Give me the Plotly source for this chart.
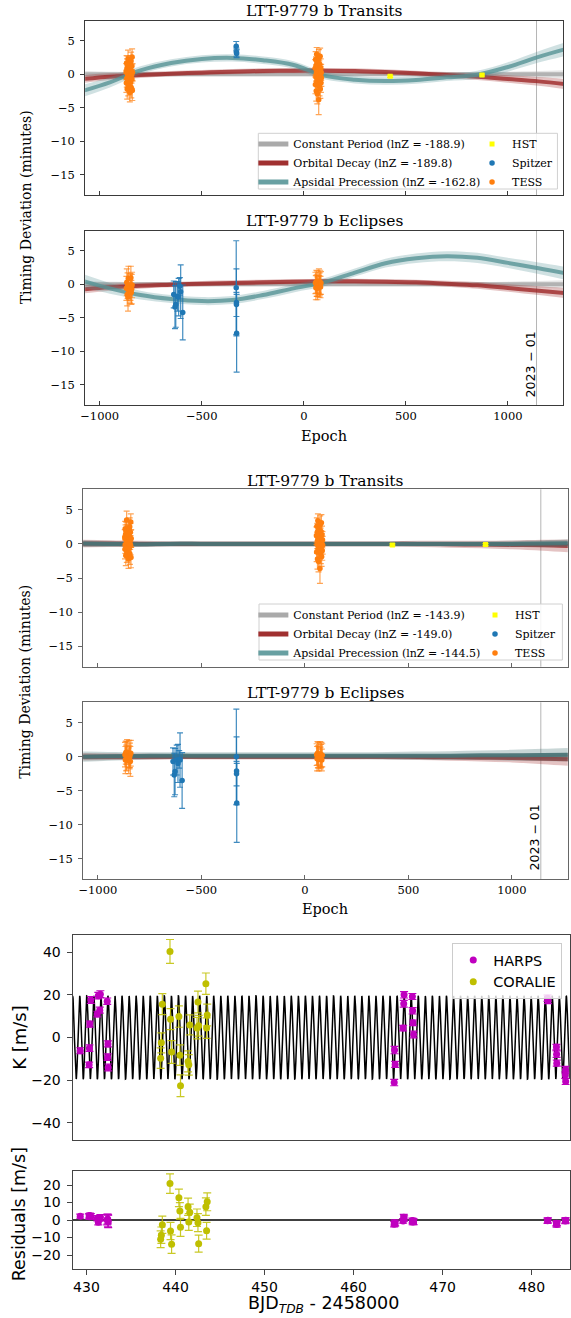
import numpy as np
import plotly.graph_objects as go

W, H = 571, 1318


def px(x):
    return x / W


def py(y):
    return 1 - y / H


SERIF = "DejaVu Serif"
SANS = "DejaVu Sans"

# ---------------- TTV data (timing deviations in minutes) ----------------
tess_tr_epoch = [-870, -869, -868, -867, -866, -865, -864, -863, -862, -861, -860, -859, -858, -857,
                 -852, -851, -850, -849, -848, -847, -846, -845, -844, -843, -842, -841, -840, -839,
                 56, 57, 58, 59, 60, 61, 62, 63, 64, 65, 66, 67, 68, 69,
                 73, 74, 75, 76, 77, 78, 79, 80, 81, 82, 83, 84, 85, 86]
tess_tr_err = [1.2, 1.4, 1.1, 1.3, 1.4, 1.5, 1.2, 1.3, 1.4, 1.3, 1.5, 1.1, 1.2, 1.3,
               1.4, 1.2, 1.3, 1.2, 1.3, 1.1, 1.3, 1.5, 1.2, 1.3, 1.4, 1.2, 1.5, 1.3,
               1.3, 1.4, 1.2, 1.3, 1.3, 1.5, 1.2, 1.0, 1.4, 1.3, 1.5, 1.2, 1.3, 1.2,
               2.2, 1.3, 1.2, 1.3, 1.4, 1.2, 1.3, 1.2, 1.4, 1.2, 1.3, 1.4, 1.2, 1.3]
tess_tr_dev_fit1 = [0.4, -1.3, 1.7, -0.6, 0.9, -2.2, 0.1, 1.4, -0.9, 2.3, -1.7, 0.6, -0.3, 1.0,
                    -2.7, 0.8, -0.4, 1.6, -1.1, 0.2, 2.0, -2.0, -0.1, 1.2, -0.7, 2.6, -2.4, 0.3,
                    0.9, -1.5, 2.2, -0.4, 1.3, -2.5, 0.2, 3.0, -1.0, 1.8, -2.9, 0.5, -0.6, 1.1,
                    -3.8, 2.4, -0.2, 0.7, -1.8, 1.5, -0.9, 2.7, -2.2, 0.0, 1.0, -1.3, 0.3, -0.5]
tess_tr_dev_fit2 = [0.9, -0.8, 2.2, -0.1, 1.4, -1.7, 0.6, 1.9, -0.4, 3.5, -1.2, 1.1, 0.2, 1.5,
                    -2.2, 1.3, 0.1, 2.1, -0.6, 0.7, 2.5, -1.5, 0.4, 1.7, -0.2, 3.2, -2.0, 0.8,
                    1.2, -1.2, 2.6, -0.1, 1.7, -2.2, 0.5, 3.4, -0.7, 2.1, -2.6, 0.8, -0.3, 1.4,
                    -3.6, 2.8, 0.1, 1.0, -1.5, 1.8, -0.6, 3.1, -1.9, 0.3, 1.3, -1.0, 0.6, -0.2]

tess_ec_epoch = [-869, -867, -865, -863, -861, -859, -851, -849, -847, -845, -843, -841,
                 57, 59, 61, 63, 65, 67, 74, 76, 78, 80, 82, 84]
tess_ec_err = [1.8, 2.0, 1.7, 1.9, 2.1, 1.8, 1.9, 2.0, 1.7, 1.8, 2.2, 1.9,
               1.6, 1.8, 1.7, 1.6, 1.9, 1.7, 1.8, 1.6, 1.7, 1.8, 1.6, 1.7]
tess_ec_dev_fit1 = [-0.6, 0.3, -1.5, -0.2, -1.9, 0.9, -0.9, -0.4, 1.0, -1.2, -0.7, -0.1,
                    0.2, -0.5, 0.4, -0.2, 0.1, -0.6, 0.5, -0.3, 0.0, 0.3, -0.4, 0.2]
tess_ec_dev_fit2 = [0.3, -0.5, 0.6, -0.2, 0.1, 0.7, -0.6, 0.4, -0.1, 0.2, -0.7, 0.5,
                    0.3, -0.3, 0.5, 0.0, 0.2, -0.4, 0.4, -0.2, 0.1, 0.3, -0.5, 0.2]

spitzer_tr_epoch = [-331, -330, -329]
spitzer_tr_err = [0.7, 0.6, 0.6]
spitzer_tr_dev_fit1 = [4.2, 3.3, 3.1]

spitzer_ec_epoch = [-637, -631, -627, -619, -613, -607, -603, -593, -331, -330, -330, -329]
spitzer_ec_err = [2.0, 3.2, 3.4, 2.2, 2.8, 1.3, 4.0, 4.1, 7.0, 5.0, 1.8, 5.8]
spitzer_ec_dev_fit1 = [-1.5, -3.4, -3.0, -1.8, -1.9, -0.3, -1.1, -4.2, -0.5, -2.7, -3.0, -7.3]
spitzer_ec_dev_fit2 = [-0.7, -2.7, -2.2, -0.5, -1.0, -0.4, -0.5, -3.5, 0.0, -2.1, -2.5, -6.8]

hst_tr_epoch = [423, 873]
hst_tr_err = [0.15, 0.15]
hst_tr_dev_fit1 = [-0.3, -0.1]
hst_tr_dev_fit2 = [-0.15, -0.1]

# ---------------- model posterior bands (read at sample epochs) ----------------
model_epoch = [-1080, -950, -800, -650, -500, -350, -200, -50, 100, 250, 400, 550, 700, 850, 1000, 1150, 1280]

const_center = [0.0, 0.0, 0.0, 0.0, 0.0, 0.0, 0.0, 0.0, 0.0, 0.0, 0.0, 0.0, 0.0, 0.0, 0.0, 0.0, 0.0]
const_spread = [0.5, 0.4, 0.35, 0.3, 0.3, 0.3, 0.3, 0.3, 0.3, 0.3, 0.3, 0.3, 0.3, 0.35, 0.4, 0.5, 0.6]

decay_tr_fit1 = [-0.7, -0.35, -0.1, 0.1, 0.25, 0.4, 0.5, 0.55, 0.55, 0.5, 0.35, 0.15, -0.1, -0.35, -0.7, -1.05, -1.45]
decay_ec_fit1 = [-0.75, -0.45, -0.2, -0.05, 0.1, 0.2, 0.3, 0.4, 0.45, 0.45, 0.4, 0.3, 0.1, -0.15, -0.55, -0.95, -1.3]
decay_spread_fit1 = [0.6, 0.5, 0.45, 0.4, 0.4, 0.4, 0.4, 0.4, 0.4, 0.4, 0.4, 0.4, 0.45, 0.5, 0.55, 0.65, 0.75]

aps_tr_fit1 = [-2.45, -1.2, 0.6, 1.7, 2.3, 2.45, 2.1, 1.4, -0.2, -0.8, -1.0, -0.85, -0.45, -0.05, 1.1, 2.6, 3.75]
aps_tr_spread_fit1 = [0.9, 0.75, 0.6, 0.55, 0.55, 0.55, 0.55, 0.55, 0.55, 0.55, 0.55, 0.55, 0.55, 0.6, 0.7, 0.85, 1.0]
aps_ec_fit1 = [0.5, -0.6, -1.6, -2.2, -2.5, -2.35, -1.6, -0.6, 0.3, 1.75, 3.15, 3.9, 4.2, 3.95, 3.2, 2.4, 1.65]
aps_ec_spread_fit1 = [1.0, 0.8, 0.65, 0.6, 0.6, 0.6, 0.6, 0.6, 0.6, 0.6, 0.65, 0.7, 0.75, 0.75, 0.75, 0.85, 0.95]

decay_tr_fit2 = [0.05, 0.05, 0.0, 0.0, 0.0, 0.0, 0.0, 0.0, 0.0, 0.0, 0.0, 0.0, -0.05, -0.1, -0.15, -0.2, -0.3]
decay_ec_fit2 = [0.0, 0.0, 0.0, 0.0, 0.0, 0.0, 0.0, 0.0, 0.0, 0.0, 0.0, -0.05, -0.1, -0.15, -0.2, -0.3, -0.4]
decay_spread_fit2 = [0.55, 0.5, 0.45, 0.4, 0.4, 0.4, 0.4, 0.4, 0.4, 0.4, 0.4, 0.45, 0.5, 0.55, 0.65, 0.8, 0.95]
aps_tr_fit2 = [0.05, 0.0, -0.05, 0.0, 0.0, 0.0, 0.0, 0.0, 0.0, 0.0, 0.0, 0.0, 0.0, 0.0, 0.0, 0.05, 0.1]
aps_tr_spread_fit2 = [0.5, 0.45, 0.4, 0.4, 0.4, 0.4, 0.4, 0.4, 0.4, 0.4, 0.4, 0.4, 0.4, 0.4, 0.45, 0.5, 0.55]
aps_ec_fit2 = [0.0, 0.05, 0.1, 0.15, 0.15, 0.15, 0.15, 0.15, 0.15, 0.15, 0.15, 0.15, 0.15, 0.2, 0.2, 0.25, 0.3]
aps_ec_spread_fit2 = [0.75, 0.65, 0.55, 0.5, 0.5, 0.5, 0.5, 0.5, 0.5, 0.5, 0.55, 0.6, 0.65, 0.7, 0.8, 0.9, 1.0]

model_names = ["Constant Period", "Orbital Decay", "Apsidal Precession"]
lnz_fit1 = [-188.9, -189.8, -162.8]
lnz_fit2 = [-143.9, -149.0, -144.5]
epoch_2023_01 = 1140

# ---------------- RV data ----------------
harps_t = [429.30, 430.30, 430.33, 430.38, 430.49, 431.22, 431.33, 431.49, 431.56, 432.33, 432.41,
           432.38, 432.44, 464.56, 464.60, 464.67, 465.56, 465.63, 465.67, 466.60, 466.63, 466.67,
           466.74, 481.78, 481.82, 482.78, 482.80, 482.82, 483.80, 483.78, 483.82]
harps_rv = [-6.2, -12.8, -5.0, 6.3, 17.6, 11.0, 19.6, 12.8, 20.3, 17.0, -3.0,
            -9.2, -14.0, -21.1, -5.9, -12.6, 4.4, 15.8, 20.0, 19.2, 12.5, 6.9,
            1.4, 18.4, 17.3, -4.5, -7.8, -12.0, -15.1, -17.6, -20.6]
harps_err = [1.4, 1.3, 1.5, 1.4, 1.6, 1.3, 1.5, 1.4, 1.6, 1.5, 1.4,
             1.5, 1.6, 1.5, 1.7, 1.4, 1.3, 1.6, 1.5, 1.4, 1.5, 1.3,
             1.6, 1.5, 1.4, 1.3, 1.5, 1.4, 1.6, 1.5, 1.4]
harps_res = [2.2, 2.4, 1.8, 2.6, 2.0, 1.0, -1.3, 0.8, 1.5, 0.2, -0.5,
             0.6, -0.8, -2.4, -1.6, -2.0, -0.5, 1.6, 0.9, -0.3, -1.2, -0.6,
             -1.0, -0.4, -0.2, -2.0, -2.6, -1.8, -0.3, -0.6, -0.1]
harps_res_err = [1.2, 1.3, 1.5, 1.4, 1.6, 1.5, 1.5, 1.4, 1.6, 3.0, 3.4,
                 2.8, 3.6, 1.5, 1.7, 1.4, 1.3, 1.6, 1.5, 1.4, 1.5, 1.3,
                 1.6, 1.5, 1.4, 1.3, 1.5, 1.4, 1.6, 1.5, 1.4]

coralie_t = [439.38, 438.52, 438.41, 438.33, 439.44, 439.56, 440.38, 440.49, 440.56,
             441.60, 441.41, 441.49, 442.41, 442.52, 442.60, 443.41, 443.56, 443.49]
coralie_rv = [40.3, 15.6, -2.5, -9.7, 8.6, -6.8, 9.8, -8.3, -22.6,
              5.9, -11.2, -12.8, 4.4, 16.6, 5.5, 25.2, 10.5, 4.4]
coralie_err = [5.6, 4.9, 4.7, 4.8, 4.9, 5.3, 5.0, 4.8, 5.1,
               4.7, 4.9, 4.8, 5.0, 5.1, 4.9, 5.0, 5.1, 4.8]
coralie_res = [20.8, -2.7, -8.7, -11.0, -6.3, -13.8, 12.7, 5.1, -4.2,
               4.4, 7.6, -1.1, 1.3, -1.5, -13.5, 7.6, 10.4, -6.1]

# Keplerian (circular) model parameters
rv_K = 19.5      # m/s
rv_P = 0.792     # days
rv_T0 = 465.67   # time of maximum

rv_xrange = [428.44, 484.27]
rv_xticks = [430, 440, 450, 460, 470, 480]

# ---------------- figure ----------------
fig = go.Figure()

RGB = {"const": "165,165,165", "decay": "158,40,40", "aps": "86,148,150", "aps2": "72,118,120"}
LEG_COL = {"const": "rgb(170,170,170)", "decay": "rgb(160,48,48)", "aps": "rgb(104,160,162)"}
C_TESS = "#ff7f0e"
C_SPITZER = "#1f77b4"
C_HST = "#ffff00"


def add_band(xa, ya, center, spread, key, fill_a=0.28, core_a=0.8, core_w=4):
    rgb = RGB[key]
    upper = [c + s for c, s in zip(center, spread)]
    lower = [c - s for c, s in zip(center, spread)]
    common = dict(x=model_epoch, xaxis=xa, yaxis=ya, mode="lines", hoverinfo="skip", showlegend=False)
    fig.add_trace(go.Scatter(y=upper, line=dict(width=0, shape="spline", color=f"rgba({rgb},0)"), **common))
    fig.add_trace(go.Scatter(y=lower, fill="tonexty", fillcolor=f"rgba({rgb},{fill_a})",
                             line=dict(width=0, shape="spline", color=f"rgba({rgb},0)"), **common))
    fig.add_trace(go.Scatter(y=center, line=dict(width=core_w, shape="spline", color=f"rgba({rgb},{core_a})"), **common))


def add_points(xa, ya, ep, dev, err, color, err_color, name, legend=None, rank=1000,
               symbol="circle", size=5.5, cap=3):
    fig.add_trace(go.Scatter(
        x=ep, y=dev, xaxis=xa, yaxis=ya, mode="markers", name=name,
        showlegend=legend is not None, legend=legend if legend else "legend", legendrank=rank,
        marker=dict(color=color, size=size, symbol=symbol, line=dict(width=0)),
        error_y=dict(type="data", array=err, visible=True, color=err_color, thickness=1.2, width=cap),
        hoverinfo="x+y"))


def add_model_legend(xa, ya, legend, lnz):
    for i, key in enumerate(["const", "decay", "aps"]):
        fig.add_trace(go.Scatter(
            x=[None], y=[None], xaxis=xa, yaxis=ya, mode="lines",
            name=f"{model_names[i]} (lnZ = {lnz[i]})", legend=legend, legendrank=i + 1,
            line=dict(color=LEG_COL[key], width=5), showlegend=True))


TESS_ERR = "rgba(255,127,14,0.7)"
SPZ_ERR = "rgba(31,119,180,0.85)"

# Panel 1: fig1 transits
add_band("x", "y", const_center, const_spread, "const")
add_band("x", "y", decay_tr_fit1, decay_spread_fit1, "decay")
add_band("x", "y", aps_tr_fit1, aps_tr_spread_fit1, "aps")
add_model_legend("x", "y", "legend", lnz_fit1)
add_points("x", "y", tess_tr_epoch, tess_tr_dev_fit1, tess_tr_err, C_TESS, TESS_ERR, "TESS", "legend2", 3)
add_points("x", "y", spitzer_tr_epoch, spitzer_tr_dev_fit1, spitzer_tr_err, C_SPITZER, SPZ_ERR, "Spitzer", "legend2", 2)
add_points("x", "y", hst_tr_epoch, hst_tr_dev_fit1, hst_tr_err, C_HST, C_HST, "HST", "legend2", 1, symbol="square", size=5)

# Panel 2: fig1 eclipses
add_band("x2", "y2", const_center, const_spread, "const")
add_band("x2", "y2", decay_ec_fit1, decay_spread_fit1, "decay")
add_band("x2", "y2", aps_ec_fit1, aps_ec_spread_fit1, "aps")
add_points("x2", "y2", tess_ec_epoch, tess_ec_dev_fit1, tess_ec_err, C_TESS, TESS_ERR, "TESS")
add_points("x2", "y2", spitzer_ec_epoch, spitzer_ec_dev_fit1, spitzer_ec_err, C_SPITZER, SPZ_ERR, "Spitzer")

# Panel 3: fig2 transits
add_band("x3", "y3", const_center, const_spread, "const")
add_band("x3", "y3", decay_tr_fit2, decay_spread_fit2, "decay")
add_band("x3", "y3", aps_tr_fit2, aps_tr_spread_fit2, "aps2", fill_a=0.3, core_a=0.9)
add_model_legend("x3", "y3", "legend3", lnz_fit2)
add_points("x3", "y3", tess_tr_epoch, tess_tr_dev_fit2, tess_tr_err, C_TESS, TESS_ERR, "TESS", "legend4", 3)
fig.add_trace(go.Scatter(x=[None], y=[None], xaxis="x3", yaxis="y3", mode="markers", name="Spitzer",
                         legend="legend4", legendrank=2, marker=dict(color=C_SPITZER, size=5.5)))
add_points("x3", "y3", hst_tr_epoch, hst_tr_dev_fit2, hst_tr_err, C_HST, C_HST, "HST", "legend4", 1, symbol="square", size=5)

# Panel 4: fig2 eclipses
add_band("x4", "y4", const_center, const_spread, "const")
add_band("x4", "y4", decay_ec_fit2, decay_spread_fit2, "decay")
add_band("x4", "y4", aps_ec_fit2, aps_ec_spread_fit2, "aps2", fill_a=0.3, core_a=0.9)
add_points("x4", "y4", tess_ec_epoch, tess_ec_dev_fit2, tess_ec_err, C_TESS, TESS_ERR, "TESS")
add_points("x4", "y4", spitzer_ec_epoch, spitzer_ec_dev_fit2, spitzer_ec_err, C_SPITZER, SPZ_ERR, "Spitzer")

# Panel 5: RV with Keplerian model
t_model = np.linspace(rv_xrange[0], rv_xrange[1], 3000)
v_model = rv_K * np.cos(2 * np.pi * (t_model - rv_T0) / rv_P)
fig.add_trace(go.Scatter(x=t_model, y=v_model, xaxis="x5", yaxis="y5", mode="lines",
                         line=dict(color="black", width=1.5), showlegend=False, hoverinfo="skip"))
C_HARPS = "#bf00bf"
C_CORALIE = "#bfbf00"
add_points("x5", "y5", harps_t, harps_rv, harps_err, C_HARPS, C_HARPS, "HARPS", "legend5", 1, size=7, cap=4)
add_points("x5", "y5", coralie_t, coralie_rv, coralie_err, C_CORALIE, "rgba(191,191,0,0.85)", "CORALIE", "legend5", 2, size=7, cap=4)

# Panel 6: residuals
add_points("x6", "y6", harps_t, harps_res, harps_res_err, C_HARPS, C_HARPS, "HARPS", size=7, cap=4)
add_points("x6", "y6", coralie_t, coralie_res, coralie_err, C_CORALIE, "rgba(191,191,0,0.85)", "CORALIE", size=7, cap=4)

# ---------------- axes ----------------
ttv_xdom1 = [px(81), px(564)]
ttv_xdom2 = [px(79), px(568.7)]
rv_xdom = [px(68.3), px(570.7)]

F1_LINE = "#3a3a3a"
F2_LINE = "#666666"
RV_LINE = "#444444"


def ttv_xaxis(domain, anchor, labels, lc):
    return dict(domain=domain, anchor=anchor, range=[-1071, 1270],
                tickvals=[-1000, -500, 0, 500, 1000], exponentformat="none",
                ticks="inside", ticklen=4, tickwidth=1, tickcolor=lc,
                showticklabels=labels, showline=True, mirror=True, linecolor=lc, linewidth=1,
                showgrid=False, zeroline=False, tickfont=dict(family=SERIF, size=11.5, color="black"))


def ttv_yaxis(top, bottom, anchor, lc):
    return dict(domain=[py(bottom), py(top)], anchor=anchor, range=[-18, 8],
                tickvals=[-15, -10, -5, 0, 5], ticks="outside", ticklen=4, tickwidth=1, tickcolor=lc,
                showline=True, mirror=True, linecolor=lc, linewidth=1, showgrid=False, zeroline=False,
                ticklabelstandoff=3, tickfont=dict(family=SERIF, size=11.5, color="black"))


layout = dict(
    width=W, height=H, margin=dict(l=0, r=0, t=0, b=0),
    paper_bgcolor="white", plot_bgcolor="white",
    font=dict(family=SERIF, color="black"),
    xaxis=ttv_xaxis(ttv_xdom1, "y", False, F1_LINE),
    yaxis=ttv_yaxis(20.7, 195, "x", F1_LINE),
    xaxis2=ttv_xaxis(ttv_xdom1, "y2", True, F1_LINE),
    yaxis2=ttv_yaxis(230.7, 405, "x2", F1_LINE),
    xaxis3=ttv_xaxis(ttv_xdom2, "y3", False, F2_LINE),
    yaxis3=ttv_yaxis(489.3, 666.7, "x3", F2_LINE),
    xaxis4=ttv_xaxis(ttv_xdom2, "y4", True, F2_LINE),
    yaxis4=ttv_yaxis(702.3, 879, "x4", F2_LINE),
    xaxis5=dict(domain=rv_xdom, anchor="y5", range=rv_xrange, showticklabels=False, ticks="",
                showline=True, mirror=True, linecolor=RV_LINE, linewidth=1, showgrid=False, zeroline=False),
    yaxis5=dict(domain=[py(1140), py(935)], anchor="x5", range=[-48, 48], tickvals=[-40, -20, 0, 20, 40],
                ticks="outside", ticklen=5, tickcolor=RV_LINE, showline=True, mirror=True, linecolor=RV_LINE,
                linewidth=1, showgrid=False, zeroline=False, ticklabelstandoff=3,
                tickfont=dict(family=SANS, size=14, color="black")),
    xaxis6=dict(domain=rv_xdom, anchor="y6", range=rv_xrange, tickvals=rv_xticks, ticks="outside",
                ticklen=5, tickcolor=RV_LINE, showline=True, mirror=True, linecolor=RV_LINE, linewidth=1,
                showgrid=False, zeroline=False, tickfont=dict(family=SANS, size=14, color="black")),
    yaxis6=dict(domain=[py(1269), py(1171)], anchor="x6", range=[-28, 28], tickvals=[-20, -10, 0, 10, 20],
                ticks="outside", ticklen=5, tickcolor=RV_LINE, showline=True, mirror=True, linecolor=RV_LINE,
                linewidth=1, showgrid=False, zeroline=False, ticklabelstandoff=3,
                tickfont=dict(family=SANS, size=14, color="black")),
)

leg_common = dict(xanchor="left", yanchor="top", bgcolor="rgba(0,0,0,0)", borderwidth=0,
                  font=dict(family=SERIF, size=11, color="black"), itemwidth=30, tracegroupgap=0,
                  traceorder="normal")
layout["legend"] = dict(x=px(251), y=py(129.5), **leg_common)
layout["legend2"] = dict(x=px(472), y=py(129.5), **leg_common)
layout["legend3"] = dict(x=px(251), y=py(600.5), **leg_common)
layout["legend4"] = dict(x=px(475), y=py(600.5), **leg_common)
layout["legend5"] = dict(x=px(452), y=py(943), xanchor="left", yanchor="top",
                         bgcolor="rgba(255,255,255,0.8)", bordercolor="#cccccc", borderwidth=1,
                         font=dict(family=SANS, size=14.5, color="black"), itemwidth=30,
                         traceorder="normal")

shapes = []
for xa, ya in [("x", "y"), ("x2", "y2"), ("x3", "y3"), ("x4", "y4")]:
    shapes.append(dict(type="line", xref=xa, x0=epoch_2023_01, x1=epoch_2023_01,
                       yref=f"{ya} domain", y0=0, y1=1, line=dict(color="#b5b5b5", width=1), layer="below"))
shapes.append(dict(type="line", xref="x6 domain", x0=0, x1=1, yref="y6", y0=0, y1=0,
                   line=dict(color="black", width=1.5), layer="below"))
for (x0, x1, y0, y1) in [(256, 558.3, 133.3, 189), (256.7, 563.3, 604, 660)]:
    shapes.append(dict(type="rect", xref="paper", yref="paper", x0=px(x0), x1=px(x1), y0=py(y1), y1=py(y0),
                       fillcolor="rgba(255,255,255,0.85)", line=dict(color="#d0d0d0", width=1), layer="above"))
layout["shapes"] = shapes


def ann(text, x, y, size, family=SERIF, angle=0, yanchor="middle"):
    return dict(text=text, x=px(x), y=py(y), xref="paper", yref="paper", xanchor="center", yanchor=yanchor,
                showarrow=False, textangle=angle, font=dict(family=family, size=size, color="black"))


annotations = [
    ann("LTT-9779 b Transits", 322.5, 11, 15.5),
    ann("LTT-9779 b Eclipses", 322.5, 221.5, 15.5),
    ann("LTT-9779 b Transits", 323.8, 481, 15.5),
    ann("LTT-9779 b Eclipses", 323.8, 693, 15.5),
    ann("Timing Deviation (minutes)", 21.5, 207, 14, angle=-90),
    ann("Timing Deviation (minutes)", 20, 682, 14, angle=-90),
    ann("Epoch", 322.7, 436, 14.5),
    ann("Epoch", 323.8, 909, 14.5),
    ann("2023 − 01", 531, 364, 12.5, family=SANS, angle=-90),
    ann("2023 − 01", 535, 837, 12.5, family=SANS, angle=-90),
    ann("K [m/s]", 14.5, 1037.5, 18, family=SANS, angle=-90),
    ann("Residuals [m/s]", 14.5, 1214, 17.5, family=SANS, angle=-90),
    ann("BJD<sub><i>TDB</i></sub> - 2458000", 321.5, 1317.5, 17.5, family=SANS, yanchor="bottom"),
]
layout["annotations"] = annotations

fig.update_layout(**layout)

fig.write_html("out.html", include_plotlyjs=True, config={"displayModeBar": False},
               post_script="document.body.style.margin='0';")
